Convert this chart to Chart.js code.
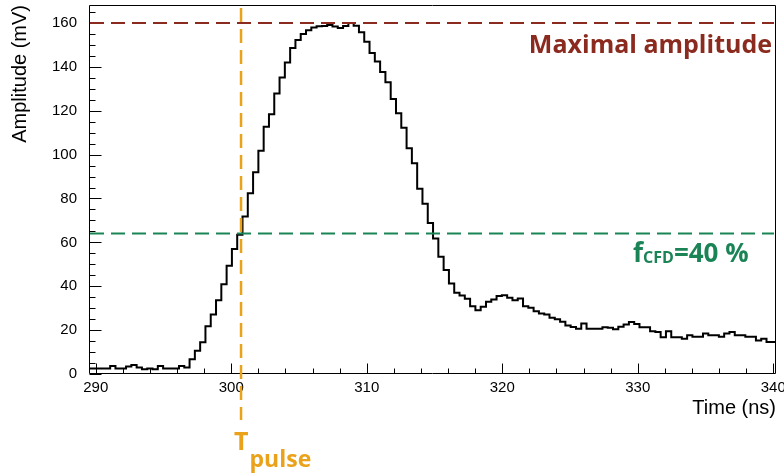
<!DOCTYPE html>
<html><head><meta charset="utf-8">
<script src="https://cdn.jsdelivr.net/npm/chart.js@4.4.0/dist/chart.umd.min.js"></script>
<style>html,body{margin:0;padding:0;background:#fff;}#wrap{width:784px;height:474px;}</style>
</head><body><div id="wrap"><canvas id="c" width="784" height="474"></canvas></div>
<script>
// ---- data ----
const binStart = 289.5;      // ns, left edge of first bin
const binWidth = 0.390625;   // ns per sample
const amplitudes = [
  2.5,2.5,2.5,2.5,3.7,2.5,2.5,3.4,4.1,3.0,
  2.2,2.5,2.2,3.7,2.5,2.5,2.5,3.7,3.0,6.7,
  10.6,14.5,21.8,27.1,33.6,40.9,49.4,57.0,63.5,71.8,
  82.4,92.0,101.8,112.7,118.4,127.9,135.2,142.0,148.6,152.2,
  155.0,156.7,157.9,158.5,158.6,159.1,158.4,157.7,158.6,160.0,
  158.7,155.8,151.5,146.3,142.5,137.7,133.0,125.3,118.8,112.3,
  102.9,96.1,84.4,77.6,68.8,61.8,53.5,47.4,41.3,37.0,
  35.8,34.3,30.9,29.1,30.6,32.9,34.0,35.5,35.9,34.7,
  33.6,34.4,30.9,30.2,28.6,27.6,27.1,25.6,24.9,23.8,
  22.1,21.4,20.6,23.0,20.6,20.6,20.6,21.3,21.1,20.4,
  21.5,22.6,23.7,22.8,21.3,21.3,19.5,19.1,16.8,19.5,
  16.8,16.8,16.1,17.7,17.0,17.0,18.5,17.7,17.7,17.0,
  18.5,19.2,17.7,17.7,17.0,17.0,15.3,16.1,14.6,14.6
];
const xTickValues = [290, 300, 310, 320, 330, 340];
const yTickValues = [0, 20, 40, 60, 80, 100, 120, 140, 160];
const xMinorStep = 2;
const yMinorStep = 5;
const maxAmplitude = 160;   // mV
const cfdFraction = 0.40;
const cfdLevel = 64;        // mV (40 % of max)
const tPulse = 300.72;      // ns

const xMin = 289.5, xMax = 340.2, yMin = 0, yMax = 168.2;

const RED = '#8b2a1f', GREEN = '#1b8457', ORANGE = '#eaa21a';

const points = amplitudes.map((v, i) => ({x: binStart + i * binWidth, y: v}));
points.push({x: binStart + amplitudes.length * binWidth, y: amplitudes[amplitudes.length - 1]});

const decor = {
  id: 'decor',
  afterDatasetsDraw(chart) {
    const {ctx, chartArea: a, scales: {x, y}} = chart;
    ctx.save();
    // frame
    ctx.strokeStyle = '#000'; ctx.lineWidth = 1; ctx.setLineDash([]);
    const L = Math.round(a.left) + 0.5, R = Math.round(a.right) - 0.5, T = Math.round(a.top) + 0.5, B = Math.round(a.bottom) - 0.5;
    ctx.beginPath(); ctx.moveTo(L, T); ctx.lineTo(R, T); ctx.lineTo(R, B); ctx.lineTo(L, B); ctx.closePath(); ctx.stroke();
    // inward ticks
    ctx.beginPath();
    for (let k = 0; ; k++) {
      const v = xTickValues[0] + k * xMinorStep;
      if (v > x.max) break;
      const px = Math.round(x.getPixelForValue(v)) + 0.5;
      const len = xTickValues.includes(v) ? 10 : 5;
      ctx.moveTo(px, B); ctx.lineTo(px, B - len);
    }
    for (let k = 0; ; k++) {
      const v = yTickValues[0] + k * yMinorStep;
      if (v > y.max) break;
      const py = Math.round(y.getPixelForValue(v)) + 0.5;
      const len = yTickValues.includes(v) ? 12 : 6;
      ctx.moveTo(L, py); ctx.lineTo(L + len, py);
    }
    ctx.stroke();

    // dashed reference lines
    ctx.lineWidth = 2; ctx.setLineDash([14, 7]);
    const yMaxPx = y.getPixelForValue(maxAmplitude);
    ctx.strokeStyle = RED;
    ctx.beginPath(); ctx.moveTo(a.left + 1, yMaxPx); ctx.lineTo(a.right - 2, yMaxPx); ctx.stroke();
    const yCfdPx = y.getPixelForValue(cfdLevel);
    ctx.strokeStyle = GREEN;
    ctx.beginPath(); ctx.moveTo(a.left + 1, yCfdPx); ctx.lineTo(a.right - 2, yCfdPx); ctx.stroke();
    const xT = x.getPixelForValue(tPulse);
    ctx.strokeStyle = ORANGE; ctx.lineWidth = 2.5;
    ctx.beginPath(); ctx.moveTo(xT, a.top + 3); ctx.lineTo(xT, 420); ctx.stroke();

    // annotations
    ctx.setLineDash([]);
    ctx.textBaseline = 'alphabetic';
    ctx.fillStyle = RED; ctx.textAlign = 'right';
    ctx.font = "bold 25px 'Open Sans'";
    ctx.fillText('Maximal amplitude', a.right - 4, yMaxPx + 30);

    ctx.fillStyle = GREEN; ctx.textAlign = 'left';
    let tx = 633; const by = yCfdPx + 28;
    ctx.font = "bold 26px 'Open Sans'"; ctx.fillText('f', tx, by); tx += ctx.measureText('f').width;
    ctx.font = "bold 16px 'Open Sans'"; ctx.fillText('CFD', tx, by + 1); tx += ctx.measureText('CFD').width;
    ctx.font = "bold 26px 'Open Sans'"; ctx.fillText('=' + Math.round(cfdFraction * 100) + ' %', tx, by);

    ctx.fillStyle = ORANGE;
    ctx.font = "bold 25px 'Open Sans'"; ctx.fillText('T', xT - 7, 450);
    const tw = ctx.measureText('T').width;
    ctx.font = "bold 23px 'Open Sans'"; ctx.fillText('pulse', xT - 7 + tw + 1, 467);
    ctx.restore();
  }
};

const tickFont = {family: "'Liberation Sans', Arial, sans-serif", size: 15};
const titleFont = {family: "'Liberation Sans', Arial, sans-serif", size: 20};

function zeroPad(s) { s.paddingLeft = 0; s.paddingRight = 0; s.paddingTop = 0; s.paddingBottom = 0; }

new Chart(document.getElementById('c'), {
  type: 'line',
  data: {datasets: [{
    data: points, stepped: 'before', borderColor: '#000', borderWidth: 2,
    pointRadius: 0, fill: false, tension: 0
  }]},
  options: {
    responsive: false, animation: false, devicePixelRatio: 1,
    layout: {padding: {top: 5, right: 8, bottom: 0, left: 0}},
    plugins: {legend: {display: false}, tooltip: {enabled: false}},
    scales: {
      x: {
        type: 'linear', position: 'bottom', min: xMin, max: xMax,
        grid: {display: false, drawTicks: false}, border: {display: false},
        ticks: {font: tickFont, color: '#000', padding: 5, maxRotation: 0, autoSkip: false},
        afterBuildTicks: s => { s.ticks = xTickValues.map(v => ({value: v})); },
        afterFit: s => { s.height = 100; zeroPad(s); },
        title: {display: true, text: 'Time (ns)', align: 'end', font: titleFont, color: '#000', padding: {top: 0, bottom: 54}}
      },
      y: {
        type: 'linear', position: 'left', min: yMin, max: yMax,
        grid: {display: false, drawTicks: false}, border: {display: false},
        ticks: {font: tickFont, color: '#000', padding: 12},
        afterBuildTicks: s => { s.ticks = yTickValues.map(v => ({value: v})); },
        afterFit: s => { s.width = 89; zeroPad(s); },
        title: {display: true, text: 'Amplitude (mV)', align: 'end', font: titleFont, color: '#000', padding: {top: 8, bottom: 0}}
      }
    }
  },
  plugins: [decor]
});
</script>
</body></html>
